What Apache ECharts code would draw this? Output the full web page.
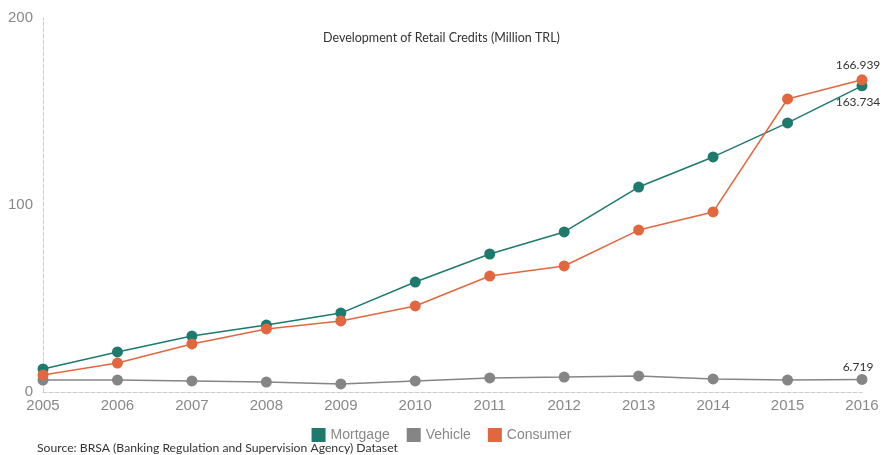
<!DOCTYPE html>
<html>
<head>
<meta charset="utf-8">
<script src="https://cdn.jsdelivr.net/npm/echarts@6/dist/echarts.min.js"></script>
<style>
  html, body { margin: 0; padding: 0; background: #fff; }
  #chart { width: 883px; height: 455px; }
</style>
</head>
<body>
<div id="chart"></div>
<script>
// categories and series values (million TRL)
const years = ['2005', '2006', '2007', '2008', '2009', '2010', '2011', '2012', '2013', '2014', '2015', '2016'];
const mortgage = [12.3, 21.4, 29.9, 35.8, 42.2, 58.8, 73.8, 85.6, 109.6, 125.7, 143.9, 163.734];
const vehicle = [6.4, 6.4, 5.9, 5.3, 4.3, 5.9, 7.5, 8.0, 8.6, 7.0, 6.4, 6.719];
const consumer = [9.1, 15.5, 25.7, 33.7, 38.0, 46.0, 62.0, 67.4, 86.6, 96.3, 156.7, 166.939];
const yTicks = [0, 100, 200];

const chart = echarts.init(document.getElementById('chart'));

// only the last point gets a label
const lastLabel = (pos, dist) => ({
  show: true,
  position: pos,
  distance: dist,
  offset: [-4, 0],
  color: '#333',
  fontSize: 12,
  fontFamily: 'Lato',
  formatter: p => (p.dataIndex === years.length - 1 ? String(p.value) : '')
});

const lineSeries = (name, data, color, pos, dist) => ({
  name,
  type: 'line',
  data,
  symbol: 'circle',
  symbolSize: 11,
  itemStyle: { color },
  lineStyle: { color, width: 1.5 },
  label: lastLabel(pos, dist),
  z: name === 'Vehicle' ? 1 : 2
});

const option = {
  animation: false,
  title: {
    text: 'Development of Retail Credits (Million TRL)',
    left: 'center',
    top: 26,
    textStyle: { fontSize: 12.5, fontWeight: 'normal', color: '#333', fontFamily: 'Lato' }
  },
  legend: {
    bottom: 8,
    left: 'center',
    icon: 'rect',
    itemWidth: 14,
    itemHeight: 14,
    itemGap: 17,
    textStyle: { fontSize: 14, color: '#888', fontFamily: 'Liberation Sans' },
    data: ['Mortgage', 'Vehicle', 'Consumer']
  },
  graphic: [{
    type: 'text',
    left: 37,
    top: 442,
    style: {
      text: 'Source: BRSA (Banking Regulation and Supervision Agency) Dataset',
      fontSize: 12.2,
      fill: '#333',
      fontFamily: 'Lato'
    }
  }],
  grid: { left: 43, right: 21, top: 18, bottom: 63 },
  xAxis: {
    type: 'category',
    data: years,
    boundaryGap: false,
    axisLine: { lineStyle: { color: '#ccc', type: 'dashed', width: 1 } },
    axisTick: { show: false },
    axisLabel: { color: '#888', fontSize: 15, fontFamily: 'Liberation Sans', margin: 6 }
  },
  yAxis: {
    type: 'value',
    min: yTicks[0],
    max: yTicks[yTicks.length - 1],
    interval: 100,
    axisLine: { show: true, lineStyle: { color: '#ccc', type: 'dashed', width: 1 } },
    axisTick: { show: false },
    splitLine: { show: false },
    axisLabel: { color: '#888', fontSize: 15, fontFamily: 'Liberation Sans', margin: 10 }
  },
  series: [
    lineSeries('Mortgage', mortgage, '#1d7a6c', 'bottom', 5),
    lineSeries('Vehicle', vehicle, '#858585', 'top', 1),
    lineSeries('Consumer', consumer, '#e2673f', 'top', 3)
  ]
};

chart.setOption(option);
</script>
</body>
</html>
